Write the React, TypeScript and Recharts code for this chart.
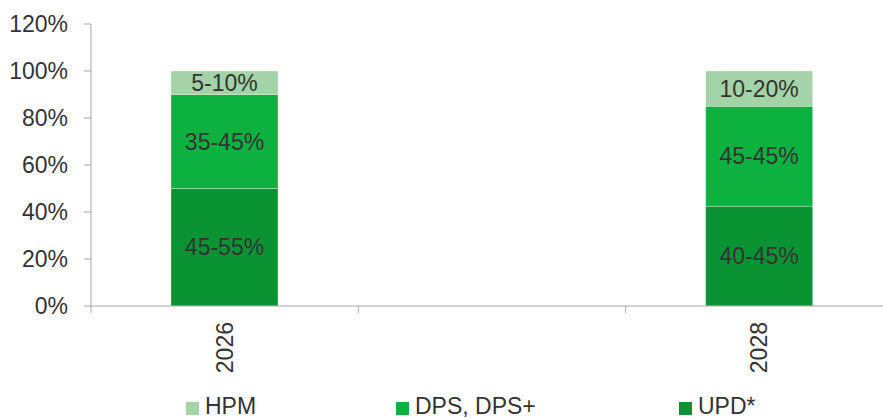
import { Bar, BarChart, LabelList, Legend, XAxis, YAxis } from "recharts";

const categories = ["2026", "", "2028"];
const updValues = [50, 0, 42.5];
const dpsValues = [40, 0, 42.5];
const hpmValues = [10, 0, 15];
const updLabels = ["45-55%", "", "40-45%"];
const dpsLabels = ["35-45%", "", "45-45%"];
const hpmLabels = ["5-10%", "", "10-20%"];
const yTicks = [0, 20, 40, 60, 80, 100, 120];

const data = categories.map((name, i) => ({
  name,
  upd: updValues[i] || null,
  dps: dpsValues[i] || null,
  hpm: hpmValues[i] || null,
  updLabel: updLabels[i],
  dpsLabel: dpsLabels[i],
  hpmLabel: hpmLabels[i]
}));

const series = [
  { key: "hpm", name: "HPM", color: "#A3D3A6" },
  { key: "dps", name: "DPS, DPS+", color: "#0DB13F" },
  { key: "upd", name: "UPD*", color: "#0A9333" }
];

const FONT = "'Liberation Sans', Arial, sans-serif";
const TEXT = "#333333";
const AXIS = "#A6A6A6";
const TICK_SIZE = 7;
const TICK_MARGIN = 9;

function CategoryTick(props: any) {
  const { x, y, payload, index, visibleTicksCount } = props;
  const half = payload?.offset ?? 0;
  const lineTop = y - TICK_MARGIN - TICK_SIZE;
  const isLast = index === visibleTicksCount - 1;
  return (
    <g>
      <line x1={x - half} x2={x - half} y1={lineTop} y2={lineTop + TICK_SIZE} stroke={AXIS} />
      {isLast && (
        <line x1={x + half} x2={x + half} y1={lineTop} y2={lineTop + TICK_SIZE} stroke={AXIS} />
      )}
      <text
        x={x}
        y={y}
        dy={8}
        transform={`rotate(-90, ${x}, ${y})`}
        textAnchor="end"
        fill={TEXT}
        fontSize={23}
        fontFamily={FONT}
      >
        {payload.value}
      </text>
    </g>
  );
}

const legendWidths = [210, 283, 200];

function LegendContent() {
  return (
    <div
      style={{
        display: "flex",
        paddingLeft: 186,
        height: 23,
        lineHeight: "23px",
        fontSize: 23,
        fontFamily: FONT,
        color: TEXT
      }}
    >
      {series.map((s, i) => (
        <div key={s.key} style={{ display: "flex", alignItems: "center", width: legendWidths[i] }}>
          <span
            style={{ width: 13, height: 13, background: s.color, marginRight: 6, marginTop: 3 }}
          />
          <span>{s.name}</span>
        </div>
      ))}
    </div>
  );
}

export default function App() {
  return (
    <div
      style={{
        position: "fixed",
        left: 0,
        top: 0,
        width: 883,
        height: 418,
        overflow: "hidden",
        background: "#fff"
      }}
    >
      <BarChart
        width={900}
        height={418}
        data={data}
        margin={{ top: 24, right: 7, left: 0, bottom: 0 }}
        barSize={107}
      >
        <YAxis
          width={91}
          domain={[0, 120]}
          ticks={yTicks}
          tickFormatter={(v) => `${v}%`}
          stroke={AXIS}
          tickSize={TICK_SIZE}
          tickMargin={16}
          tick={{ fill: TEXT, fontSize: 23, fontFamily: FONT }}
          interval={0}
        />
        <XAxis
          dataKey="name"
          height={89}
          stroke={AXIS}
          tickLine={false}
          tickSize={TICK_SIZE}
          tickMargin={TICK_MARGIN}
          interval={0}
          tick={<CategoryTick />}
        />
        <Legend
          verticalAlign="bottom"
          align="left"
          height={23}
          wrapperStyle={{ left: 0, bottom: 0, width: 900 }}
          content={<LegendContent />}
        />
        {[...series].reverse().map((s) => (
          <Bar
            key={s.key}
            dataKey={s.key}
            name={s.name}
            stackId="a"
            fill={s.color}
            stroke="rgba(255,255,255,0.3)"
            strokeWidth={1}
            isAnimationActive={false}
          >
            <LabelList
              dataKey={`${s.key}Label`}
              position="center"
              fill={TEXT}
              fontSize={23}
              fontFamily={FONT}
            />
          </Bar>
        ))}
      </BarChart>
    </div>
  );
}
